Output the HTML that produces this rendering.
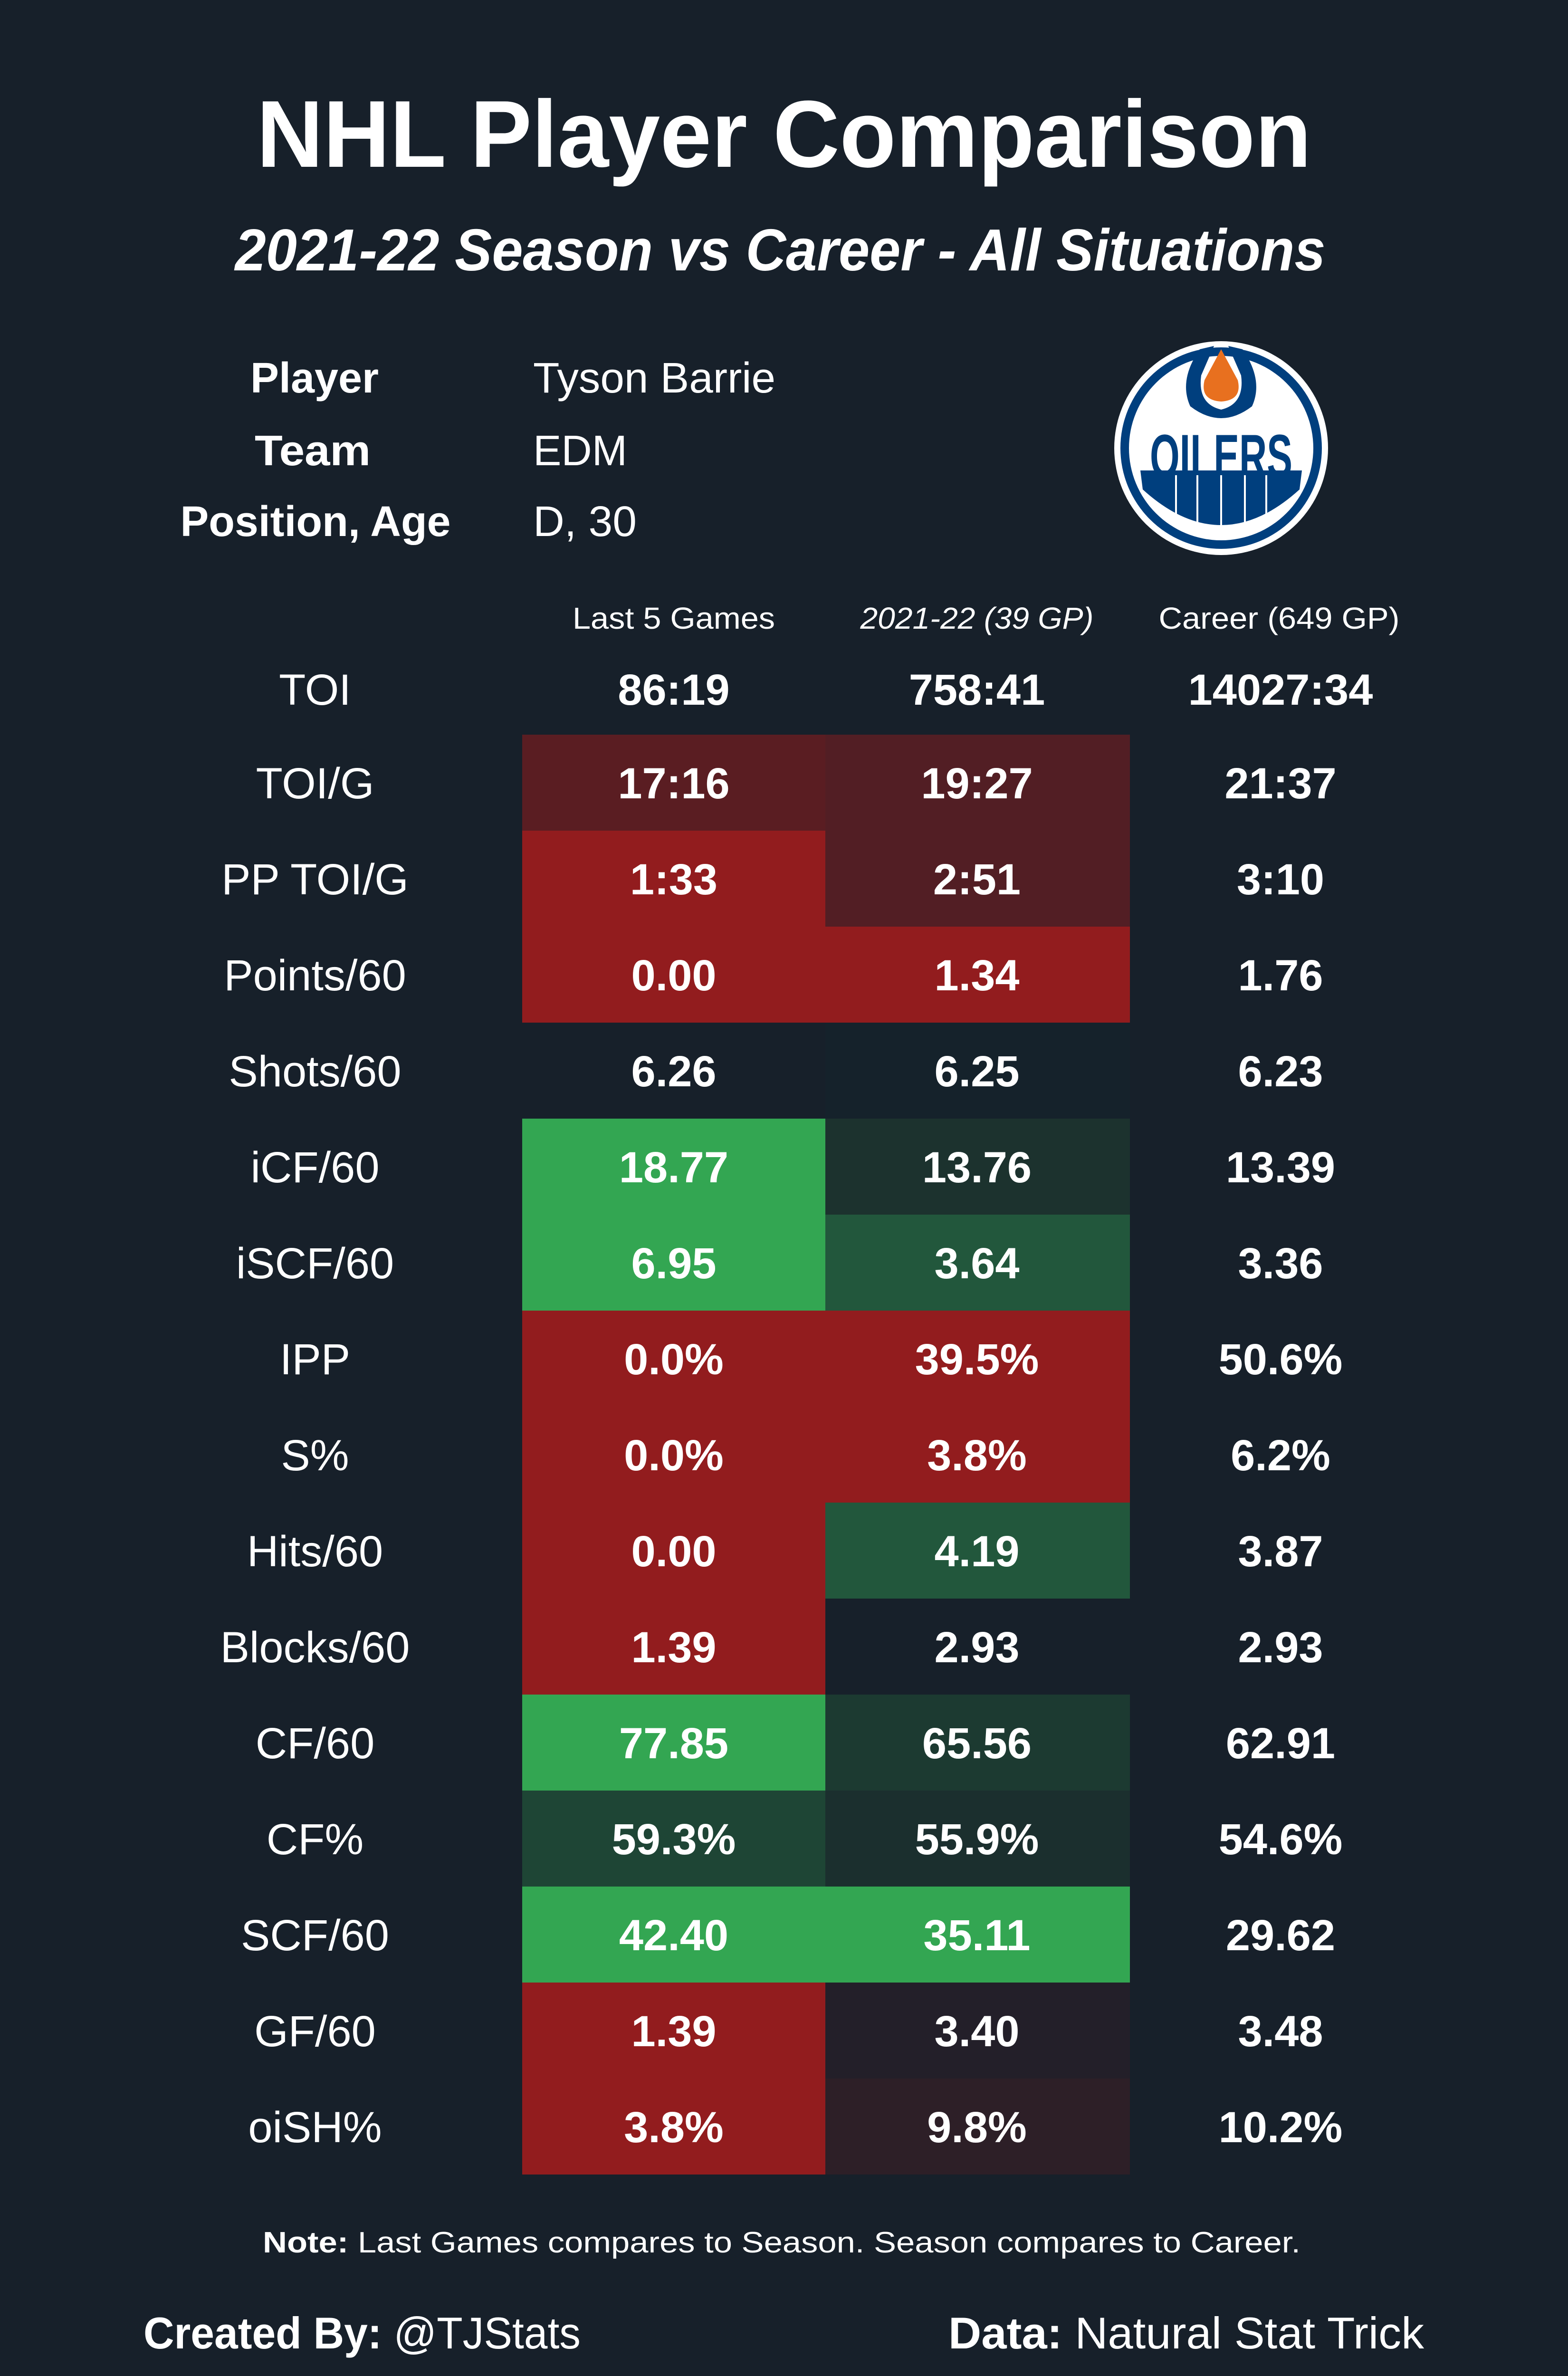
<!DOCTYPE html>
<html><head><meta charset="utf-8"><style>
html,body{margin:0;padding:0;background:#17202a;width:3300px;height:5100px;overflow:hidden;}
svg{display:block;}
text{font-family:"Liberation Sans",sans-serif;fill:#fff;}
.b{font-weight:bold;}
</style></head><body>
<svg width="3300" height="5100" viewBox="0 0 3300 5100" xmlns="http://www.w3.org/2000/svg">
<rect width="3300" height="5100" fill="#17202a"/>
<text x="1650" y="351" font-size="200" class="b" text-anchor="middle" textLength="2220" lengthAdjust="spacingAndGlyphs">NHL Player Comparison</text>
<text x="1642" y="569" font-size="124" class="b" font-style="italic" text-anchor="middle" textLength="2295" lengthAdjust="spacingAndGlyphs">2021-22 Season vs Career - All Situations</text>

<text x="662" y="826" font-size="90" class="b" text-anchor="middle" textLength="270" lengthAdjust="spacingAndGlyphs">Player</text>
<text x="658" y="979" font-size="90" class="b" text-anchor="middle" textLength="244" lengthAdjust="spacingAndGlyphs">Team</text>
<text x="664" y="1128" font-size="90" class="b" text-anchor="middle" textLength="569" lengthAdjust="spacingAndGlyphs">Position, Age</text>
<text x="1122" y="826" font-size="90" textLength="510" lengthAdjust="spacingAndGlyphs">Tyson Barrie</text>
<text x="1122" y="979" font-size="90" textLength="198" lengthAdjust="spacingAndGlyphs">EDM</text>
<text x="1122" y="1128" font-size="90" textLength="218" lengthAdjust="spacingAndGlyphs">D, 30</text>

<g>
<circle cx="2570" cy="943" r="225" fill="#ffffff"/>
<circle cx="2570" cy="943" r="212" fill="#003f7e"/>
<circle cx="2570" cy="943" r="194" fill="#ffffff"/>
<path d="M2400,990 L2740,990 L2735,1030 Q2570,1180 2405,1030 Z" fill="#003f7e"/>
<path d="M2525,735 L2555,728 L2528,790 Q2520,850 2570,862 Q2620,850 2612,790 L2585,728 L2615,735 Q2660,800 2635,855 Q2570,905 2505,855 Q2480,800 2525,735 Z" fill="#003f7e"/>
<path d="M2570,735 L2605,800 Q2615,842 2570,845 Q2525,842 2535,800 Z" fill="#e8701f"/>
<text x="2570" y="1005" font-size="130" class="b" style="fill:#003f7e" text-anchor="middle" textLength="300" lengthAdjust="spacingAndGlyphs">OILERS</text>
<g stroke="#ffffff" stroke-width="4">
<line x1="2475" y1="1000" x2="2475" y2="1090"/><line x1="2520" y1="1000" x2="2520" y2="1110"/>
<line x1="2570" y1="1000" x2="2570" y2="1115"/><line x1="2620" y1="1000" x2="2620" y2="1110"/>
<line x1="2665" y1="1000" x2="2665" y2="1090"/>
</g>
</g>

<text x="1418" y="1323" font-size="64" text-anchor="middle" textLength="426" lengthAdjust="spacingAndGlyphs">Last 5 Games</text>
<text x="2056" y="1323" font-size="64" font-style="italic" text-anchor="middle" textLength="491" lengthAdjust="spacingAndGlyphs">2021-22 (39 GP)</text>
<text x="2692" y="1323" font-size="64" text-anchor="middle" textLength="507" lengthAdjust="spacingAndGlyphs">Career (649 GP)</text>

<text x="663" y="1483" font-size="92" text-anchor="middle">TOI</text>
<text x="1418" y="1483" font-size="92" class="b" text-anchor="middle">86:19</text>
<text x="2056" y="1483" font-size="92" class="b" text-anchor="middle">758:41</text>
<text x="2695" y="1483" font-size="92" class="b" text-anchor="middle">14027:34</text>

<g>
<rect x="1099" y="1546" width="638" height="202" fill="#5a1d22"/>
<rect x="1737" y="1546" width="641" height="202" fill="#521e24"/>
<rect x="1099" y="1748" width="638" height="202" fill="#921c1e"/>
<rect x="1737" y="1748" width="641" height="202" fill="#521e24"/>
<rect x="1099" y="1950" width="638" height="202" fill="#921c1e"/>
<rect x="1737" y="1950" width="641" height="202" fill="#921c1e"/>
<rect x="1099" y="2152" width="638" height="202" fill="#17202a"/>
<rect x="1737" y="2152" width="641" height="202" fill="#15222b"/>
<rect x="1099" y="2354" width="638" height="202" fill="#33a652"/>
<rect x="1737" y="2354" width="641" height="202" fill="#1c322e"/>
<rect x="1099" y="2556" width="638" height="202" fill="#33a652"/>
<rect x="1737" y="2556" width="641" height="202" fill="#22573c"/>
<rect x="1099" y="2758" width="638" height="202" fill="#921c1e"/>
<rect x="1737" y="2758" width="641" height="202" fill="#921c1e"/>
<rect x="1099" y="2960" width="638" height="202" fill="#921c1e"/>
<rect x="1737" y="2960" width="641" height="202" fill="#921c1e"/>
<rect x="1099" y="3162" width="638" height="202" fill="#921c1e"/>
<rect x="1737" y="3162" width="641" height="202" fill="#22573c"/>
<rect x="1099" y="3364" width="638" height="202" fill="#921c1e"/>
<rect x="1737" y="3364" width="641" height="202" fill="#17202a"/>
<rect x="1099" y="3566" width="638" height="202" fill="#33a652"/>
<rect x="1737" y="3566" width="641" height="202" fill="#1c3a31"/>
<rect x="1099" y="3768" width="638" height="202" fill="#1e4535"/>
<rect x="1737" y="3768" width="641" height="202" fill="#1b2f2e"/>
<rect x="1099" y="3970" width="638" height="202" fill="#33a652"/>
<rect x="1737" y="3970" width="641" height="202" fill="#33a652"/>
<rect x="1099" y="4172" width="638" height="202" fill="#921c1e"/>
<rect x="1737" y="4172" width="641" height="202" fill="#231f29"/>
<rect x="1099" y="4374" width="638" height="202" fill="#921c1e"/>
<rect x="1737" y="4374" width="641" height="202" fill="#2d1f27"/>
</g>

<g font-size="92">
<text x="663" y="1680" text-anchor="middle">TOI/G</text>
<text x="663" y="1882" text-anchor="middle">PP TOI/G</text>
<text x="663" y="2084" text-anchor="middle">Points/60</text>
<text x="663" y="2286" text-anchor="middle">Shots/60</text>
<text x="663" y="2488" text-anchor="middle">iCF/60</text>
<text x="663" y="2690" text-anchor="middle">iSCF/60</text>
<text x="663" y="2892" text-anchor="middle">IPP</text>
<text x="663" y="3094" text-anchor="middle">S%</text>
<text x="663" y="3296" text-anchor="middle">Hits/60</text>
<text x="663" y="3498" text-anchor="middle">Blocks/60</text>
<text x="663" y="3700" text-anchor="middle">CF/60</text>
<text x="663" y="3902" text-anchor="middle">CF%</text>
<text x="663" y="4104" text-anchor="middle">SCF/60</text>
<text x="663" y="4306" text-anchor="middle">GF/60</text>
<text x="663" y="4508" text-anchor="middle">oiSH%</text>
</g>
<g font-size="92" class="b" text-anchor="middle">
<text x="1418" y="1680">17:16</text><text x="2056" y="1680">19:27</text><text x="2695" y="1680">21:37</text>
<text x="1418" y="1882">1:33</text><text x="2056" y="1882">2:51</text><text x="2695" y="1882">3:10</text>
<text x="1418" y="2084">0.00</text><text x="2056" y="2084">1.34</text><text x="2695" y="2084">1.76</text>
<text x="1418" y="2286">6.26</text><text x="2056" y="2286">6.25</text><text x="2695" y="2286">6.23</text>
<text x="1418" y="2488">18.77</text><text x="2056" y="2488">13.76</text><text x="2695" y="2488">13.39</text>
<text x="1418" y="2690">6.95</text><text x="2056" y="2690">3.64</text><text x="2695" y="2690">3.36</text>
<text x="1418" y="2892">0.0%</text><text x="2056" y="2892">39.5%</text><text x="2695" y="2892">50.6%</text>
<text x="1418" y="3094">0.0%</text><text x="2056" y="3094">3.8%</text><text x="2695" y="3094">6.2%</text>
<text x="1418" y="3296">0.00</text><text x="2056" y="3296">4.19</text><text x="2695" y="3296">3.87</text>
<text x="1418" y="3498">1.39</text><text x="2056" y="3498">2.93</text><text x="2695" y="3498">2.93</text>
<text x="1418" y="3700">77.85</text><text x="2056" y="3700">65.56</text><text x="2695" y="3700">62.91</text>
<text x="1418" y="3902">59.3%</text><text x="2056" y="3902">55.9%</text><text x="2695" y="3902">54.6%</text>
<text x="1418" y="4104">42.40</text><text x="2056" y="4104">35.11</text><text x="2695" y="4104">29.62</text>
<text x="1418" y="4306">1.39</text><text x="2056" y="4306">3.40</text><text x="2695" y="4306">3.48</text>
<text x="1418" y="4508">3.8%</text><text x="2056" y="4508">9.8%</text><text x="2695" y="4508">10.2%</text>
</g>

<text x="553" y="4740" font-size="62" textLength="2184" lengthAdjust="spacingAndGlyphs"><tspan class="b">Note:</tspan> Last Games compares to Season. Season compares to Career.</text>
<text x="302" y="4942" font-size="94" textLength="920" lengthAdjust="spacingAndGlyphs"><tspan class="b">Created By:</tspan> @TJStats</text>
<text x="1996" y="4942" font-size="94" textLength="1001" lengthAdjust="spacingAndGlyphs"><tspan class="b">Data:</tspan> Natural Stat Trick</text>
</svg>
</body></html>
